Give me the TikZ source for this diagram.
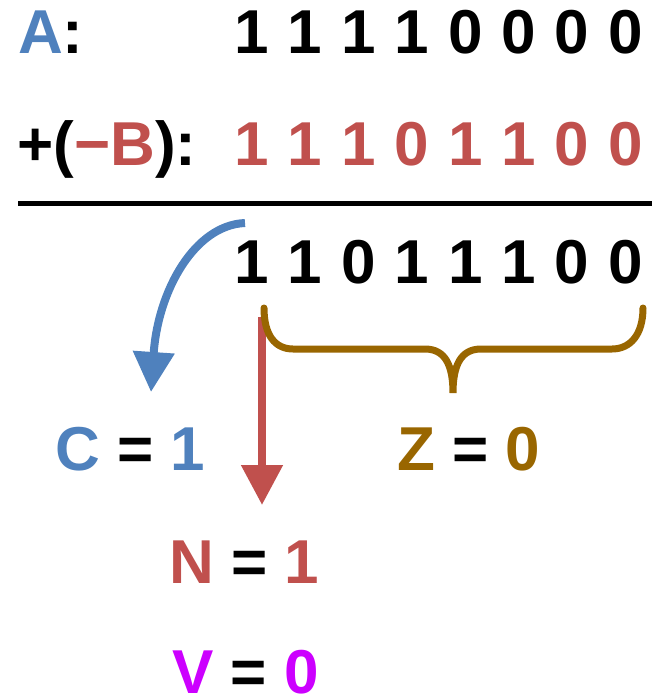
\documentclass[tikz,border=0pt]{standalone}
\usepackage{fontspec}
\setmainfont{Liberation Sans}
\usetikzlibrary{arrows.meta}

\definecolor{flagblue}{HTML}{4F81BD}
\definecolor{flagred}{HTML}{C0504D}
\definecolor{flagbrown}{HTML}{996600}
\definecolor{flagpurple}{HTML}{CC00FF}

\begin{document}
\begin{tikzpicture}[x=1pt,y=-1pt,
    every node/.style={inner sep=0pt,font=\fontsize{62}{62}\selectfont\bfseries},
    bit/.style={anchor=base},
    lbl/.style={anchor=base west}]
    \useasboundingbox (0,0) rectangle (652,697);
    % operand A
    \node[lbl] (A) at (18,53) {\textcolor{flagblue}{A}:};
    \node[bit] (a0) at (252,53) {1};
    \node[bit] (a1) at (305,53) {1};
    \node[bit] (a2) at (359,53) {1};
    \node[bit] (a3) at (412,53) {1};
    \node[bit] (a4) at (466,53) {0};
    \node[bit] (a5) at (519,53) {0};
    \node[bit] (a6) at (572,53) {0};
    \node[bit] (a7) at (626,53) {0};
    % operand -B
    \node[lbl] (B) at (17,165) {+(\textcolor{flagred}{−B}):};
    \node[bit,flagred] (b0) at (252,165) {1};
    \node[bit,flagred] (b1) at (305,165) {1};
    \node[bit,flagred] (b2) at (359,165) {1};
    \node[bit,flagred] (b3) at (412,165) {0};
    \node[bit,flagred] (b4) at (466,165) {1};
    \node[bit,flagred] (b5) at (519,165) {1};
    \node[bit,flagred] (b6) at (572,165) {0};
    \node[bit,flagred] (b7) at (626,165) {0};
    \draw[line width=5pt] (18,203) -- (652,203);
    % sum
    \node[bit] (s0) at (252,283) {1};
    \node[bit] (s1) at (305,283) {1};
    \node[bit] (s2) at (359,283) {0};
    \node[bit] (s3) at (412,283) {1};
    \node[bit] (s4) at (466,283) {1};
    \node[bit] (s5) at (519,283) {1};
    \node[bit] (s6) at (572,283) {0};
    \node[bit] (s7) at (626,283) {0};
    % flags
    \node[lbl] (C) at (55,470) {\textcolor{flagblue}{C} = \textcolor{flagblue}{1}};
    \node[lbl] (Z) at (397,470) {\textcolor{flagbrown}{Z} = \textcolor{flagbrown}{0}};
    \node[lbl] (N) at (169,583) {\textcolor{flagred}{N} = \textcolor{flagred}{1}};
    \node[lbl] (V) at (172,693) {\textcolor{flagpurple}{V} = \textcolor{flagpurple}{0}};
    \coordinate (cfrom) at (245,223);
    \coordinate (cto) at (151,392);
    \coordinate (nfrom) at (262,317);
    \coordinate (nto) at (262,505);
    \draw[flagblue,line width=8pt,-{Triangle[length=40pt,width=40pt]}]
        (cfrom) .. controls (195,225) and (158,290) .. (cto);
    \draw[flagred,line width=8pt,-{Triangle[length=40pt,width=40pt]}] (nfrom) -- (nto);
    \draw[flagbrown,line width=7pt,line cap=round]
        (264,308) .. controls (264,335) and (275,349) .. (293,349) -- (425,349)
        .. controls (445,349) and (453,365) .. (453,393)
        .. controls (453,365) and (461,349) .. (481,349) -- (612,349)
        .. controls (630,349) and (643,335) .. (643,308);
\end{tikzpicture}
\end{document}
